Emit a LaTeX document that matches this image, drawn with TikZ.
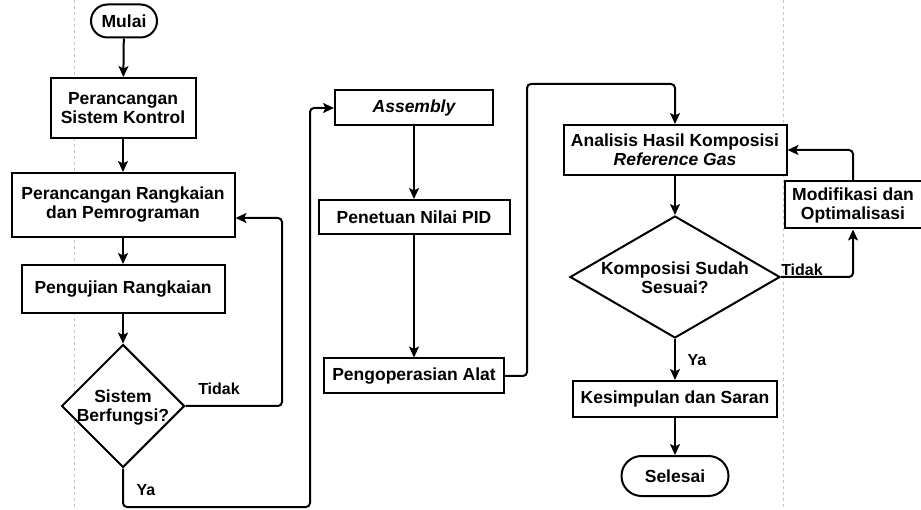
\documentclass[tikz,border=0pt]{standalone}
\usepackage{fontspec}
\setmainfont{Liberation Sans}
\usetikzlibrary{shapes.geometric,shapes.misc,arrows.meta}

\tikzstyle{block}=[rectangle,draw,fill=white,line width=2pt,inner sep=0pt,align=center,font=\fontsize{17.5}{19}\selectfont\bfseries]
\tikzstyle{terminal}=[rounded rectangle,draw,fill=white,line width=2pt,inner sep=0pt,font=\fontsize{17.5}{19}\selectfont\bfseries]
\tikzstyle{decision}=[diamond,draw,fill=white,line width=2pt,inner sep=0pt]
\tikzstyle{caption}=[align=center,inner sep=0pt,font=\fontsize{17.5}{19}\selectfont\bfseries]
\tikzstyle{answer}=[inner sep=0pt,font=\fontsize{16}{18}\selectfont\bfseries]
\tikzstyle{edge}=[draw,line width=2pt,rounded corners=4pt,-{Stealth[length=11pt,width=10pt,inset=2.5pt]}]

\begin{document}
\begin{tikzpicture}[x=1pt,y=-1pt]
		\useasboundingbox (0,0) rectangle (921,510);
		% page margins
		\draw[gray!45,dashed,line width=0.8pt] (74,0) -- (74,510);
		\draw[gray!45,dashed,line width=0.8pt] (783,0) -- (783,510);
		% First column
		\node[terminal,minimum width=66pt,minimum height=33pt] (mulai) at (124,21) {Mulai};
		\node[block,minimum width=145pt,minimum height=60pt] (design) at (123,108) {Perancangan\\Sistem Kontrol};
		\node[block,minimum width=223pt,minimum height=64pt] (circuit) at (123,205) {Perancangan Rangkaian\\dan Pemrograman};
		\node[block,minimum width=203pt,minimum height=48pt] (test) at (123,289) {Pengujian Rangkaian};
		\node[decision,minimum width=123pt,minimum height=123pt] (check) at (123,406) {};
		\node[caption] (checktext) at (123,408) {Sistem\\Berfungsi?};
		% Second column
		\node[block,minimum width=158pt,minimum height=35pt] (assembly) at (414,108) {\itshape Assembly};
		\node[block,minimum width=191pt,minimum height=34pt] (pid) at (414,217) {Penetuan Nilai PID};
		\node[block,minimum width=180pt,minimum height=35pt] (operate) at (414,376) {Pengoperasian Alat};
		% Third column
		\node[block,minimum width=223pt,minimum height=50pt] (analysis) at (675,150) {Analisis Hasil Komposisi\\\itshape Reference Gas};
		\node[decision,minimum width=210pt,minimum height=122pt] (verify) at (675,277) {};
		\node[caption] (verifytext) at (675,278) {Komposisi Sudah\\Sesuai?};
		\node[block,minimum width=137pt,minimum height=47pt] (modify) at (853,205) {Modifikasi dan\\Optimalisasi};
		\node[block,minimum width=204pt,minimum height=36pt] (conclude) at (675,399) {Kesimpulan dan Saran};
		\node[terminal,minimum width=107pt,minimum height=40pt] (finish) at (675,476) {Selesai};
		% Bends of the connectors
		\coordinate (back) at (282,218);
		\coordinate (down) at (310,507);
		\coordinate (up) at (527,84);
		% Connect blocks with edges
		\foreach \source/ \dest in {mulai/design, design/circuit, circuit/test, test/check, assembly/pid, pid/operate, analysis/verify, verify/conclude, conclude/finish}
			\path[edge] (\source) -- (\dest);
		\path[edge] (check.east) -| (back) -- (back -| circuit.east);
		\path[edge] (check.south) |- (down) |- (assembly.west);
		\path[edge] (operate.east) -| (up) -| (analysis.north);
		\path[edge] (verify.east) -| (modify.south);
		\path[edge] (modify.north) |- (analysis.east);
		% Answers
		\node[answer] (no1) at (219,389) {Tidak};
		\node[answer] (yes1) at (146,490) {Ya};
		\node[answer] (no2) at (802,270) {Tidak};
		\node[answer] (yes2) at (697,360) {Ya};
\end{tikzpicture}
\end{document}
